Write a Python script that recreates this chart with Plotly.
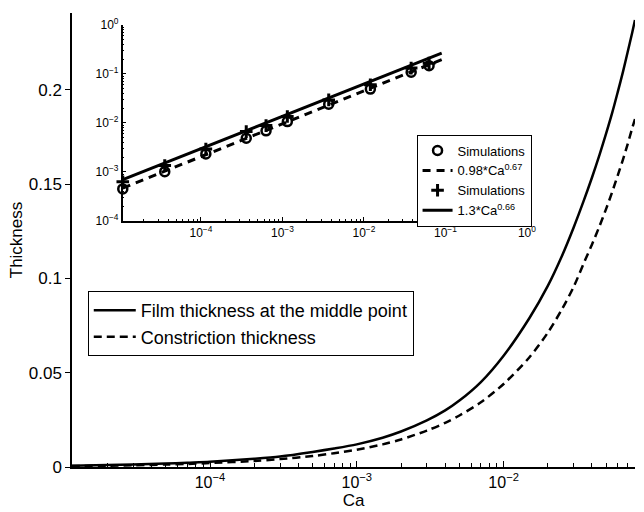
import plotly.graph_objects as go

# Main panel: thickness vs capillary number
ca_curve = [1.14e-5, 2e-5, 3e-5, 5e-5, 7e-5, 1e-4, 2e-4, 3e-4, 5e-4, 7e-4,
            1e-3, 1.5e-3, 2e-3, 3e-3, 4e-3, 5e-3, 7e-3, 1e-2, 1.5e-2, 2e-2,
            2.5e-2, 3e-2, 3.5e-2, 4e-2, 4.5e-2, 5e-2, 5.5e-2, 6e-2, 6.5e-2,
            7e-2, 7.5e-2, 7.85e-2]
film_middle = [0.0007, 0.0010, 0.0013, 0.0018, 0.0023, 0.0028, 0.0044, 0.0056,
               0.0080, 0.0098, 0.0120, 0.0155, 0.0188, 0.0247, 0.0300, 0.0352,
               0.0450, 0.0590, 0.0790, 0.0960, 0.1120, 0.1270, 0.1408, 0.1535,
               0.1655, 0.1770, 0.1880, 0.1990, 0.2095, 0.2200, 0.2300, 0.2370]
constriction = [0.00048, 0.0007, 0.00092, 0.0013, 0.0016, 0.0021, 0.0032, 0.0042,
                0.0058, 0.0073, 0.0092, 0.0120, 0.0146, 0.0193, 0.0234, 0.0273,
                0.0343, 0.0440, 0.0582, 0.0712, 0.0837, 0.0955, 0.1077, 0.1180,
                0.1277, 0.1370, 0.1460, 0.1548, 0.1630, 0.1712, 0.1794, 0.1845]

# Inset: simulations and power-law fits (log-log)
ca_sim = [1.1e-5, 3.6e-5, 1.15e-4, 3.6e-4, 6.3e-4, 1.15e-3, 3.7e-3, 1.2e-2, 3.8e-2, 6.3e-2]
sim_constriction = [4.5e-4, 1.01e-3, 2.33e-3, 4.87e-3, 6.87e-3, 1.06e-2, 2.41e-2,
                    4.88e-2, 0.108, 0.146]
sim_middle = [6.3e-4, 1.35e-3, 2.94e-3, 6.64e-3, 8.8e-3, 1.35e-2, 2.94e-2,
              5.97e-2, 0.131, 0.165]
ca_fit = [1.1e-5, 9e-2]
fit_constriction = [4.66e-4, 0.1953]   # 0.98*Ca^0.67
fit_middle = [6.93e-4, 0.2653]         # 1.3*Ca^0.66

y_ticks = [0, 0.05, 0.1, 0.15, 0.2]
y_ticktext = ["0", "0.05", "0.1", "0.15", "0.2"]
x_ticks = [1e-4, 1e-3, 1e-2]
x_ticktext = ["10<sup>−4</sup>", "10<sup>−3</sup>", "10<sup>−2</sup>"]
inset_ticks = [1e-4, 1e-3, 1e-2, 1e-1, 1e0]
inset_ticktext = ["10<sup>−4</sup>", "10<sup>−3</sup>", "10<sup>−2</sup>",
                  "10<sup>−1</sup>", "10<sup>0</sup>"]


def minor_log(lo_exp, hi_exp):
    """Minor tick positions 2..9 x 10^k for each decade."""
    return [m * 10.0 ** k for k in range(lo_exp, hi_exp) for m in range(2, 10)]


FONT = "Liberation Sans, Arial, sans-serif"

fig = go.Figure()

fig.add_trace(go.Scatter(x=ca_curve, y=film_middle, mode="lines",
                         line=dict(color="black", width=2.5, shape="spline", smoothing=0.8),
                         name="Film thickness at the middle point", legend="legend"))
fig.add_trace(go.Scatter(x=ca_curve, y=constriction, mode="lines",
                         line=dict(color="black", width=2.5, dash="8px,5px",
                                   shape="spline", smoothing=0.8),
                         name="Constriction thickness", legend="legend"))

fig.add_trace(go.Scatter(x=ca_sim, y=sim_constriction, mode="markers", xaxis="x2", yaxis="y2",
                         marker=dict(symbol="circle-open", size=9, color="black",
                                     line=dict(width=2.5, color="black")),
                         cliponaxis=False, name="Simulations", legend="legend2"))
fig.add_trace(go.Scatter(x=ca_fit, y=fit_constriction, mode="lines", xaxis="x2", yaxis="y2",
                         line=dict(color="black", width=3, dash="8px,6px"),
                         name="0.98*Ca<sup>0.67</sup>", legend="legend2"))
fig.add_trace(go.Scatter(x=ca_sim, y=sim_middle, mode="markers", xaxis="x2", yaxis="y2",
                         marker=dict(symbol="cross-thin", size=9, color="black",
                                     line=dict(width=3, color="black")),
                         cliponaxis=False, name="Simulations", legend="legend2"))
fig.add_trace(go.Scatter(x=ca_fit, y=fit_middle, mode="lines", xaxis="x2", yaxis="y2",
                         line=dict(color="black", width=3),
                         name="1.3*Ca<sup>0.66</sup>", legend="legend2"))

fig.update_layout(
    width=644, height=512,
    margin=dict(l=72, r=0, t=13, b=45),
    paper_bgcolor="white", plot_bgcolor="white",
    font=dict(family=FONT, color="black", size=17),
    xaxis=dict(type="log", range=[-4.94, -1.105], domain=[0, 1],
               showline=True, linecolor="black", linewidth=1.5, mirror=False,
               ticks="inside", ticklen=6, tickwidth=1, tickcolor="black",
               tickvals=x_ticks, ticktext=x_ticktext, showgrid=False, zeroline=False,
               tickfont=dict(size=16),
               minor=dict(ticks="inside", ticklen=4, tickcolor="black",
                          tickvals=minor_log(-5, -1), showgrid=False),
               title=dict(text="Ca", font=dict(size=17), standoff=0)),
    yaxis=dict(range=[0, 0.2407], domain=[0, 1],
               showline=True, linecolor="black", linewidth=1.5, mirror=False,
               ticks="outside", ticklen=5, tickwidth=1, tickcolor="black",
               tickvals=y_ticks, ticktext=y_ticktext, showgrid=False, zeroline=False,
               tickfont=dict(size=17),
               title=dict(text="Thickness", font=dict(size=17), standoff=2)),
    xaxis2=dict(type="log", range=[-4.96, 0], domain=[0.090, 0.808], anchor="y2",
                showline=True, linecolor="black", linewidth=1.5, mirror=False,
                ticks="inside", ticklen=4, tickcolor="black",
                tickvals=inset_ticks, ticktext=inset_ticktext,
                showgrid=False, zeroline=False, tickfont=dict(size=12),
                minor=dict(ticks="inside", ticklen=2, tickcolor="black",
                           tickvals=minor_log(-5, 0), showgrid=False)),
    yaxis2=dict(type="log", range=[-4, 0], domain=[0.542, 0.974], anchor="x2",
                showline=True, linecolor="black", linewidth=1.5, mirror=False,
                ticks="inside", ticklen=4, tickcolor="black",
                tickvals=inset_ticks, ticktext=inset_ticktext,
                showgrid=False, zeroline=False, tickfont=dict(size=12),
                minor=dict(ticks="inside", ticklen=2, tickcolor="black",
                           tickvals=minor_log(-4, 0), showgrid=False)),
    legend=dict(x=0.028, y=0.316, xanchor="left", yanchor="middle",
                bordercolor="black", borderwidth=1, bgcolor="white",
                font=dict(size=18), traceorder="normal", tracegroupgap=0,
                itemwidth=42),
    legend2=dict(x=0.612, y=0.631, xanchor="left", yanchor="middle",
                 bordercolor="black", borderwidth=1, bgcolor="white",
                 font=dict(size=13), traceorder="normal", tracegroupgap=0),
    showlegend=True,
)

fig.write_html("out.html")
